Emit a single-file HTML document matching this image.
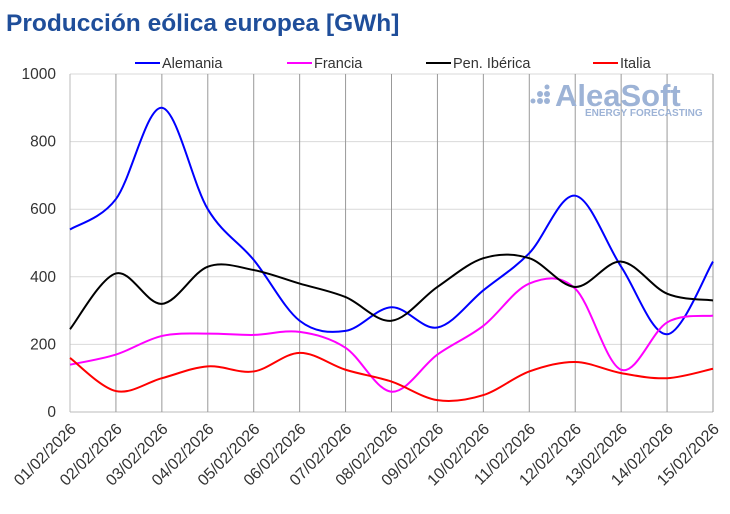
<!DOCTYPE html>
<html><head><meta charset="utf-8"><style>
body{margin:0;background:#fff;width:730px;height:509px;overflow:hidden;font-family:"Liberation Sans",sans-serif}
</style></head><body>
<svg id="s" width="730" height="509" xmlns="http://www.w3.org/2000/svg" font-family="Liberation Sans, sans-serif">
<text x="6" y="31" font-size="24.5" font-weight="bold" fill="#1f4e9a">Producción eólica europea [GWh]</text>
<g id="grid"></g>
<g id="logo" fill="#9db3d6">
<circle cx="533" cy="101" r="2.5"/><circle cx="540" cy="101" r="3"/><circle cx="547" cy="101" r="3"/>
<circle cx="540" cy="94" r="3"/><circle cx="547" cy="94" r="3"/><circle cx="547" cy="87" r="2.5"/>
<text x="555" y="106" font-size="31" font-weight="bold">AleaSoft</text>
<text x="585" y="116" font-size="10" font-weight="bold">ENERGY FORECASTING</text>
</g>
<g id="lines" fill="none" stroke-width="2"></g>
<g font-size="14.5" fill="#333">
<line x1="135" y1="63" x2="160" y2="63" stroke="#0000ff" stroke-width="2"/><text x="162" y="68">Alemania</text>
<line x1="287" y1="63" x2="312" y2="63" stroke="#ff00ff" stroke-width="2"/><text x="314" y="68">Francia</text>
<line x1="426" y1="63" x2="451" y2="63" stroke="#000" stroke-width="2"/><text x="453" y="68">Pen. Ibérica</text>
<line x1="593" y1="63" x2="618" y2="63" stroke="#ff0000" stroke-width="2"/><text x="620" y="68">Italia</text>
</g>
</svg>
<script>
const ns="http://www.w3.org/2000/svg",s=document.getElementById('s'),g=document.getElementById('grid'),L=document.getElementById('lines');
const x0=70,x1=713,yb=412,yt=74,dx=(x1-x0)/14;
const X=i=>x0+i*dx,Y=v=>yb-v*(yb-yt)/1000;
function el(p,t,a){const e=document.createElementNS(ns,t);for(const k in a)e.setAttribute(k,a[k]);p.appendChild(e);return e;}
for(let v=0;v<=1000;v+=200){el(g,'line',{x1:x0,x2:x1,y1:Y(v),y2:Y(v),stroke:v==0?'#bbb':'#d9d9d9'});
const t=el(g,'text',{x:56,y:Y(v)+5,'font-size':15.5,fill:'#333','text-anchor':'end'});t.textContent=v;}
for(let i=0;i<15;i++){el(g,'line',{x1:X(i),x2:X(i),y1:yt,y2:yb,stroke:i==0?'#bbb':'#999'});
const d=String(i+1).padStart(2,'0')+'/02/2026';const x=X(i)+7,y=yb+18;
const t=el(g,'text',{x:x,y:y,'font-size':16,fill:'#333','text-anchor':'end',transform:`rotate(-45 ${x} ${y})`});t.textContent=d;}
const D=[['#0000ff',[540,630,900,600,450,270,240,310,250,360,470,640,430,230,445]],
['#ff00ff',[140,170,225,232,228,237,190,60,170,255,380,365,125,265,285]],
['#000',[245,410,320,430,420,380,340,270,370,455,455,370,445,350,330]],
['#ff0000',[160,62,100,135,120,175,125,90,35,50,120,148,115,100,128]]];
for(const [c,v] of D){const p=v.map((a,i)=>[X(i),Y(a)]);let d=`M${p[0]}`;
for(let i=0;i<p.length-1;i++){const a=p[Math.max(0,i-1)],b=p[i],e=p[i+1],f=p[Math.min(p.length-1,i+2)];
d+=`C${b[0]+(e[0]-a[0])/6},${b[1]+(e[1]-a[1])/6} ${e[0]-(f[0]-b[0])/6},${e[1]-(f[1]-b[1])/6} ${e[0]},${e[1]}`;}
el(L,'path',{d:d,stroke:c});}
</script>
</body></html>
